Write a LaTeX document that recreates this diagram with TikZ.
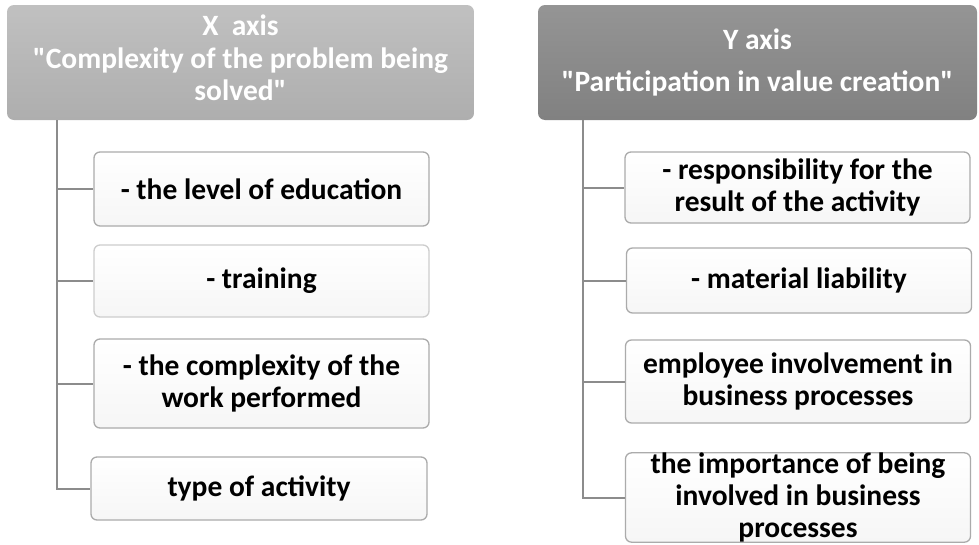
\documentclass[tikz,border=0pt]{standalone}
\usepackage{fontspec}
\newfontfamily\carlito{Carlito}
\usetikzlibrary{positioning}

\definecolor{xhead}{HTML}{BDBDBD}
\definecolor{yhead}{HTML}{8F8F8F}
\definecolor{boxline}{HTML}{ABABAB}
\definecolor{linkgray}{HTML}{8C8C8C}

\begin{document}
\begin{tikzpicture}[x=1pt, y=-1pt,
  every node/.style = {align=center, font=\carlito\bfseries\fontsize{29.5}{32}\selectfont, inner sep=0pt},
  axishead/.style = {rounded corners=7pt, text=white, minimum height=115pt},
  itembox/.style = {draw=boxline, line width=1.3pt, rounded corners=6pt, top color=white, bottom color=gray!7, text=black},
  link/.style = {draw=linkgray, line width=2pt}]
\useasboundingbox (0,0) rectangle (979,544);

% X axis
\node[axishead, top color=xhead!95, bottom color=xhead!92!black, minimum width=467pt] (xh) at (240.5,62.5)
  {X\ \ axis\\[1pt] "Complexity of the problem being\\ solved"\\[-22pt]\mbox{}};
\node[itembox, minimum width=335pt, minimum height=74pt] (xb1) at (261.5,189) {- the level of education};
\node[itembox, minimum width=335pt, minimum height=72pt, draw=boxline!60] (xb2) at (261.5,281) {- training};
\node[itembox, minimum width=335pt, minimum height=89pt] (xb3) at (261.5,383.5) {- the complexity of the\\ work performed};
\node[itembox, minimum width=336pt, minimum height=63pt] (xb4) at (259,488.5) {type of activity};

\coordinate (xtrunk) at (57,120);
\draw[link] (xtrunk) |- (xb4.west);
\foreach \b in {xb1, xb2, xb3}
  \draw[link] (xtrunk |- \b.west) -- (\b.west);

% Y axis
\node[axishead, top color=yhead!95!white, bottom color=yhead!90!black, minimum width=439pt] (yh) at (757.5,62.5)
  {Y axis\\[10pt] "Participation in value creation"};
\node[itembox, minimum width=345pt, minimum height=71pt] (yb1) at (797.5,187.5) {- responsibility for the\\ result of the activity};
\node[itembox, minimum width=345pt, minimum height=65pt] (yb2) at (799,280.5) {- material liability};
\node[itembox, minimum width=345pt, minimum height=83pt] (yb3) at (798,381.5) {employee involvement in\\ business processes};
\node[itembox, minimum width=345pt, minimum height=89pt] (yb4) at (798,497.5) {the importance of being\\ involved in business\\ processes};

\coordinate (ytrunk) at (583,120);
\draw[link] (ytrunk) |- (yb4.west);
\foreach \b in {yb1, yb2, yb3}
  \draw[link] (ytrunk |- \b.west) -- (\b.west);
\end{tikzpicture}
\end{document}
